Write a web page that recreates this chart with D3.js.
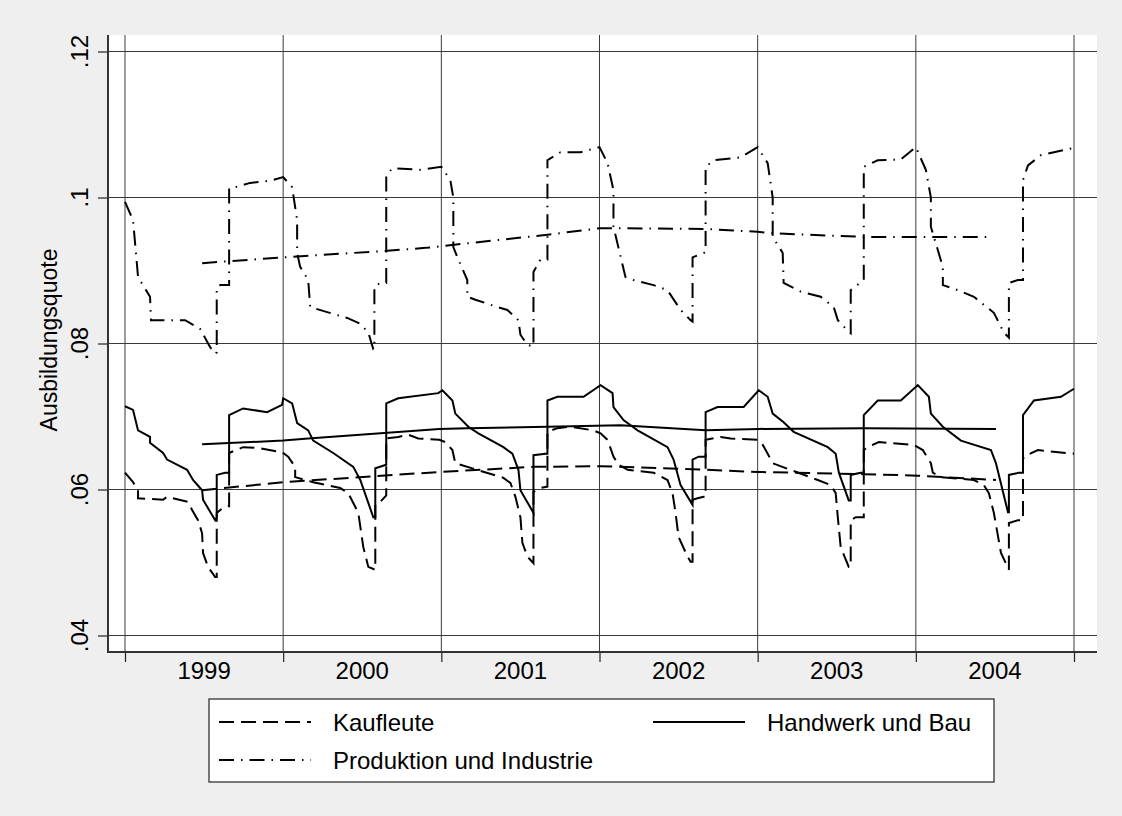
<!DOCTYPE html>
<html>
<head>
<meta charset="utf-8">
<script src="https://d3js.org/d3.v7.min.js"></script>
<style>
  body {margin:0; background:#efefef;}
  svg {display:block; font-family:"Liberation Sans", Arial, sans-serif;}
</style>
</head>
<body>
<div id="chart"></div>
<script>
// x values are months since Jan 1999, y values are the Ausbildungsquote
var years = ["1999", "2000", "2001", "2002", "2003", "2004"];
var yTicks = [0.04, 0.06, 0.08, 0.1, 0.12];
var yTickLabels = [".04", ".06", ".08", ".1", ".12"];

var produktion = [
  [0, .0994], [0.61, .0969], [0.99, .0891], [1.9, .0864], [1.97, .0832], [4.56, .0832], [5.7, .0820],
  [6.46, .0795], [6.84, .0786], [6.96, .0788], [6.96, .0877], [7.22, .0880], [7.9, .0880], [7.9, .1013],
  [8.35, .1014], [9.49, .1020], [11.01, .1023], [12.0, .1028], [12.68, .1014], [13.06, .0969], [13.06, .0924],
  [13.29, .0905], [13.9, .0887], [14.05, .0850], [15.34, .0843], [16.86, .0835], [17.85, .0827], [18.46, .0815],
  [18.84, .0792], [18.92, .0792], [18.92, .0878], [19.37, .0883], [19.82, .0883], [19.82, .1030], [20.28, .1040],
  [22.41, .1038], [24.0, .1042], [24.68, .1024], [24.91, .1000], [24.91, .0932], [25.22, .0918], [25.97, .0887],
  [25.97, .0864], [26.58, .0860], [28.25, .0850], [29.01, .0846], [29.85, .0832], [30.0, .0812], [30.53, .0798],
  [30.99, .0796], [30.99, .0898], [31.52, .0915], [32.05, .0915], [32.05, .1051], [33.04, .1062], [34.56, .1062],
  [36.0, .1069], [36.61, .1047], [37.06, .1010], [37.06, .0960], [37.97, .0891], [38.58, .0887], [40.1, .0880],
  [41.16, .0873], [42.15, .0846], [42.91, .0832], [43.06, .0830], [43.06, .0918], [44.05, .0925], [44.05, .1042],
  [44.66, .1051], [46.71, .1055], [48.0, .1069], [48.76, .1047], [49.14, .1000], [49.14, .0946], [49.9, .0924],
  [49.97, .0883], [51.27, .0871], [52.78, .0864], [53.77, .0850], [54.08, .0832], [54.91, .0816], [55.06, .0814],
  [55.06, .0873], [56.05, .0887], [56.05, .1042], [57.11, .1051], [58.86, .1052], [60.0, .1069], [60.76, .1038],
  [61.14, .1000], [61.14, .0960], [62.05, .0905], [62.05, .0880], [63.19, .0873], [64.41, .0864], [65.92, .0842],
  [66.68, .0815], [67.06, .0808], [67.06, .0883], [67.75, .0887], [68.13, .0887], [68.13, .1024], [68.51, .1044],
  [69.49, .1058], [72.0, .1068]
];

var handwerk = [
  [0, .0714], [0.61, .0709], [0.99, .0681], [1.9, .0672], [1.9, .0664], [2.89, .0650], [3.19, .0641],
  [4.71, .0627], [5.16, .0613], [5.85, .0599], [5.92, .0586], [6.84, .0558], [6.96, .0562], [6.96, .0620],
  [7.6, .0623], [7.9, .0623], [7.9, .0702], [8.96, .0711], [10.78, .0706], [11.92, .0716], [12.0, .0725],
  [12.68, .0718], [13.06, .0691], [13.9, .0681], [14.28, .0667], [15.8, .0650], [17.32, .0631], [17.85, .0613],
  [18.84, .0562], [18.99, .0562], [18.99, .0629], [19.82, .0634], [19.82, .0718], [20.73, .0725], [23.77, .0732],
  [24.08, .0736], [24.84, .0722], [25.06, .0704], [26.05, .0686], [26.81, .0677], [28.71, .0658], [29.39, .0649],
  [29.85, .0627], [30.0, .0599], [30.99, .0568], [30.99, .0647], [31.9, .0649], [32.05, .0649], [32.05, .0722],
  [32.81, .0727], [34.79, .0727], [36.08, .0743], [36.99, .0732], [37.06, .0713], [37.82, .0695], [38.89, .0681],
  [41.16, .0658], [41.62, .0641], [42.15, .0606], [43.06, .0579], [43.06, .0641], [43.52, .0645], [44.05, .0645],
  [44.05, .0706], [44.96, .0713], [46.94, .0713], [48.08, .0736], [48.76, .0727], [49.14, .0704], [49.97, .0692],
  [50.73, .0679], [53.32, .0658], [53.92, .0649], [54.16, .0623], [54.91, .0585], [55.06, .0585], [55.06, .0620],
  [55.82, .0623], [56.05, .0623], [56.05, .0702], [57.11, .0722], [58.86, .0722], [60.15, .0743], [60.99, .0727],
  [61.14, .0704], [62.05, .0686], [63.42, .0667], [65.7, .0654], [66.08, .0636], [66.99, .0569], [67.06, .0569],
  [67.06, .0620], [67.82, .0623], [68.13, .0623], [68.13, .0702], [68.96, .0722], [71.01, .0727], [72.0, .0738]
];

var kaufleute = [
  [0, .0623], [0.61, .0610], [0.99, .0599], [0.99, .0588], [2.89, .0586], [3.19, .0590], [4.79, .0583],
  [5.09, .0572], [5.54, .0558], [5.85, .0540], [5.92, .0513], [6.3, .0494], [6.84, .0480], [6.96, .0480],
  [6.96, .0568], [7.45, .0575], [7.82, .0577], [7.9, .0577], [7.9, .0650], [8.96, .0658], [10.03, .0657],
  [11.92, .0651], [12.38, .0645], [12.91, .0631], [12.91, .0617], [14.28, .0610], [16.33, .0602], [16.94, .0595],
  [17.7, .0568], [18.08, .0521], [18.46, .0494], [18.99, .0490], [18.99, .0580], [19.37, .0583], [19.82, .0592],
  [19.82, .0670], [20.73, .0672], [21.49, .0675], [22.25, .0670], [23.85, .0668], [24.3, .0665], [24.84, .0654],
  [25.06, .0636], [28.71, .0616], [29.24, .0609], [29.62, .0590], [30.0, .0562], [30.15, .0527], [30.53, .0508],
  [30.99, .0499], [30.99, .0597], [31.52, .0602], [32.05, .0604], [32.05, .0679], [32.81, .0684], [33.8, .0686],
  [35.54, .0681], [36.08, .0677], [36.61, .0668], [37.06, .0645], [37.44, .0634], [38.13, .0627], [40.1, .0623],
  [41.16, .0613], [41.54, .0595], [41.77, .0568], [42.0, .0535], [42.68, .0508], [42.91, .0501], [43.06, .0501],
  [43.06, .0586], [43.44, .0588], [43.9, .0590], [44.05, .0590], [44.05, .0668], [45.19, .0672], [45.95, .0670],
  [48.0, .0668], [48.3, .0664], [48.76, .0649], [49.14, .0636], [52.56, .0613], [53.54, .0606], [53.92, .0595],
  [54.08, .0562], [54.3, .0521], [54.91, .0494], [55.06, .0494], [55.06, .0558], [55.44, .0562], [56.05, .0562],
  [56.05, .0654], [56.35, .0658], [57.19, .0665], [59.85, .0661], [60.53, .0654], [61.14, .0636], [61.29, .0623],
  [61.9, .0617], [64.41, .0613], [65.16, .0606], [65.54, .0595], [65.92, .0568], [66.46, .0513], [67.06, .0490],
  [67.06, .0554], [67.75, .0558], [68.13, .0558], [68.13, .0641], [68.2, .0645], [69.26, .0654], [72.0, .0649]
];

// 12 month moving averages
var produktionTrend = [
  [5.85, .0910], [12.0, .0918], [19.9, .0927], [22.8, .0931], [32.05, .0949], [36.08, .0958],
  [43.9, .0957], [48.0, .0953], [49.14, .0951], [56.05, .0946], [60.92, .0946], [65.8, .0946]
];
var handwerkTrend = [
  [5.85, .0662], [12.0, .0667], [13.9, .0670], [23.85, .0683], [25.97, .0684], [32.05, .0686],
  [37.59, .0688], [44.05, .0681], [48.08, .0683], [56.05, .0684], [66.08, .0683]
];
var kaufleuteTrend = [
  [5.85, .0599], [12.0, .0610], [23.85, .0624], [30.99, .0631], [36.08, .0632], [44.05, .0627],
  [48.0, .0624], [56.05, .0621], [60.15, .0619], [66.08, .0613]
];

var W = 1122, H = 816;
var plotL = 108, plotR = 1097, plotT = 35, plotB = 652;

var svg = d3.select("#chart").append("svg")
  .attr("width", W)
  .attr("height", H);

svg.append("rect").attr("width", W).attr("height", H).style("fill", "#efefef");
svg.append("rect")
  .attr("x", plotL).attr("y", plotT)
  .attr("width", plotR - plotL).attr("height", plotB - plotT)
  .style("fill", "white");

var x = d3.scaleLinear().domain([0, 72]).range([125, 1074]);
var y = d3.scaleLinear().domain([0.04, 0.12]).range([635.5, 51.5]);
var yearTicks = d3.range(0, 73, 12);

// grid
svg.selectAll("line.vgrid").data(yearTicks).enter().append("line")
  .attr("class", "vgrid")
  .attr("x1", function(d) { return x(d); }).attr("x2", function(d) { return x(d); })
  .attr("y1", plotT).attr("y2", plotB)
  .style("stroke", "#3a3a3a").style("stroke-width", 1);
svg.selectAll("line.hgrid").data(yTicks).enter().append("line")
  .attr("class", "hgrid")
  .attr("x1", plotL).attr("x2", plotR)
  .attr("y1", function(d) { return y(d); }).attr("y2", function(d) { return y(d); })
  .style("stroke", "#3a3a3a").style("stroke-width", 1);

// axes (ticks only, labels drawn separately)
var xAxis = svg.append("g")
  .attr("transform", "translate(0," + plotB + ")")
  .call(d3.axisBottom(x).tickValues(yearTicks).tickSize(10).tickFormat(""));
var yAxis = svg.append("g")
  .attr("transform", "translate(" + plotL + ",0)")
  .call(d3.axisLeft(y).tickValues(yTicks).tickSize(10).tickFormat(""));
xAxis.select(".domain").remove();
yAxis.select(".domain").remove();
svg.selectAll(".tick line").style("stroke", "#222").style("stroke-width", 1.2);

svg.append("line")
  .attr("x1", plotL).attr("x2", plotL).attr("y1", plotT).attr("y2", plotB + 1)
  .style("stroke", "#333").style("stroke-width", 2);
svg.append("line")
  .attr("x1", plotL).attr("x2", plotR).attr("y1", plotB).attr("y2", plotB)
  .style("stroke", "#333").style("stroke-width", 2);

svg.selectAll("text.year").data(years).enter().append("text")
  .attr("class", "year")
  .attr("x", function(d, i) { return x(i * 12 + 6); })
  .attr("y", 679)
  .attr("text-anchor", "middle")
  .style("font-size", "24px")
  .text(function(d) { return d; });

svg.selectAll("text.ytick").data(yTicks).enter().append("text")
  .attr("class", "ytick")
  .attr("transform", function(d) { return "translate(88," + y(d) + ") rotate(-90)"; })
  .attr("text-anchor", "middle")
  .style("font-size", "24px")
  .text(function(d, i) { return yTickLabels[i]; });

svg.append("text")
  .attr("transform", "translate(57,340) rotate(-90)")
  .attr("text-anchor", "middle")
  .style("font-size", "23px")
  .text("Ausbildungsquote");

// series
var line = d3.line()
  .x(function(d) { return x(d[0]); })
  .y(function(d) { return y(d[1]); });

var dashK = "15,7";
var dashP = "15,7,1.5,7";

function drawLine(data, dash) {
  svg.append("path")
    .datum(data)
    .attr("d", line)
    .style("fill", "none")
    .style("stroke", "black")
    .style("stroke-width", 2)
    .style("stroke-dasharray", dash);
}

drawLine(kaufleute, dashK);
drawLine(handwerk, null);
drawLine(produktion, dashP);
drawLine(kaufleuteTrend, dashK);
drawLine(handwerkTrend, null);
drawLine(produktionTrend, dashP);

// legend
svg.append("rect")
  .attr("x", 209).attr("y", 699).attr("width", 785).attr("height", 83)
  .style("fill", "white").style("stroke", "#222").style("stroke-width", 1.2);

var legendItems = [
  {label: "Kaufleute", dash: dashK, x: 219, y: 722},
  {label: "Handwerk und Bau", dash: null, x: 653, y: 722},
  {label: "Produktion und Industrie", dash: dashP, x: 219, y: 760}
];
legendItems.forEach(function(it) {
  svg.append("line")
    .attr("x1", it.x).attr("x2", it.x + 92)
    .attr("y1", it.y).attr("y2", it.y)
    .style("stroke", "black").style("stroke-width", 2)
    .style("stroke-dasharray", it.dash);
  svg.append("text")
    .attr("x", it.x + 114).attr("y", it.y + 9)
    .style("font-size", "24px")
    .text(it.label);
});
</script>
</body>
</html>
